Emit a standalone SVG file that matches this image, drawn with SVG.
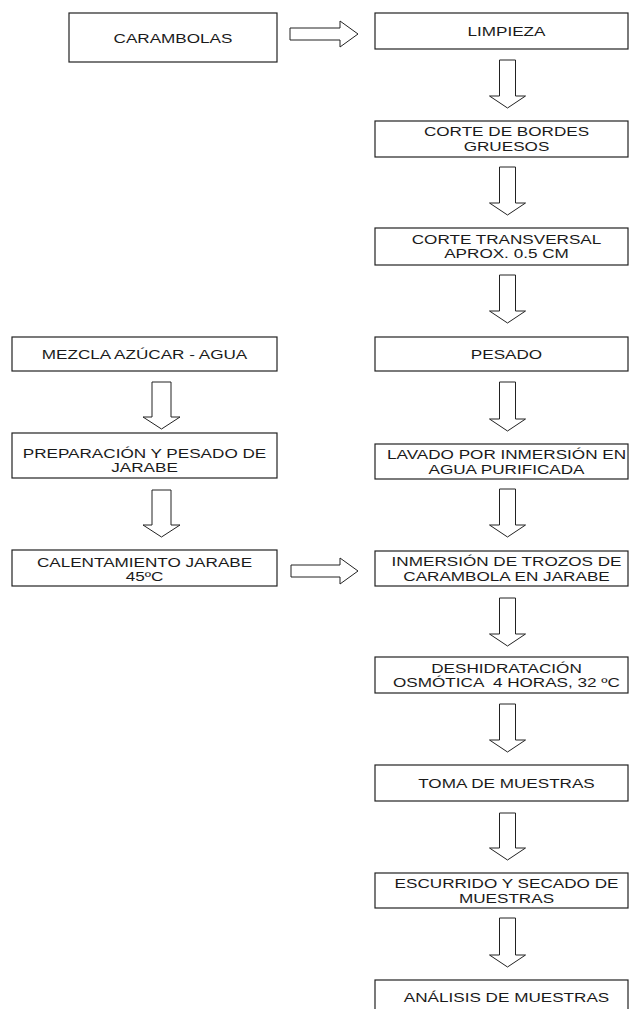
<svg xmlns="http://www.w3.org/2000/svg" width="629" height="1009" viewBox="0 0 629 1009">
<style>
.box{fill:#fff;stroke:#222;stroke-width:1.2}
.arr{fill:#fff;stroke:#222;stroke-width:1}
text{font-family:"Liberation Sans",Arial,sans-serif;font-size:12.5px;fill:#1a1a1a;text-anchor:middle;white-space:pre}
</style>
<rect width="629" height="1009" fill="#fff"/>
<g id="connectors">
<polygon class="arr" points="290,28 340,28 340,21 358,34 340,47 340,40 290,40"/>
<polygon class="arr" points="291,565 340,565 340,558 358,571 340,584 340,577 291,577"/>
<polygon class="arr" points="499.5,60 515.5,60 515.5,96 525.5,96 507.5,108 489.5,96 499.5,96"/>
<polygon class="arr" points="499.5,167 515.5,167 515.5,203 525.5,203 507.5,215 489.5,203 499.5,203"/>
<polygon class="arr" points="499.5,275 515.5,275 515.5,311 525.5,311 507.5,323 489.5,311 499.5,311"/>
<polygon class="arr" points="499.5,382 515.5,382 515.5,419 525.5,419 507.5,431 489.5,419 499.5,419"/>
<polygon class="arr" points="499.5,489 515.5,489 515.5,525 525.5,525 507.5,537 489.5,525 499.5,525"/>
<polygon class="arr" points="499.5,598 515.5,598 515.5,634 525.5,634 507.5,646 489.5,634 499.5,634"/>
<polygon class="arr" points="499.5,704 515.5,704 515.5,740 525.5,740 507.5,752 489.5,740 499.5,740"/>
<polygon class="arr" points="499.5,813 515.5,813 515.5,848 525.5,848 507.5,860 489.5,848 499.5,848"/>
<polygon class="arr" points="499.5,918 515.5,918 515.5,955 525.5,955 507.5,967 489.5,955 499.5,955"/>
<polygon class="arr" points="152,382 171,382 171,417 180,417 161.5,429 143,417 152,417"/>
<polygon class="arr" points="152,490 171,490 171,525 180,525 161.5,537 143,525 152,525"/>
</g>
<g id="n-carambolas"><rect class="box" x="69" y="13" width="208" height="49"/><text transform="translate(173,42.5) scale(1.37,1)">CARAMBOLAS</text></g>
<g id="n-limpieza"><rect class="box" x="375" y="13" width="253" height="36"/><text transform="translate(506.5,36) scale(1.37,1)">LIMPIEZA</text></g>
<g id="n-corte-bordes"><rect class="box" x="375" y="121" width="253" height="36"/><text transform="translate(506.5,136) scale(1.37,1)">CORTE DE BORDES</text><text transform="translate(506.5,150.5) scale(1.37,1)">GRUESOS</text></g>
<g id="n-corte-transversal"><rect class="box" x="375" y="228" width="253" height="37"/><text transform="translate(506.5,243.5) scale(1.37,1)">CORTE TRANSVERSAL</text><text transform="translate(506.5,258) scale(1.37,1)">APROX. 0.5 CM</text></g>
<g id="n-pesado"><rect class="box" x="375" y="337" width="253" height="34"/><text transform="translate(506.5,359) scale(1.37,1)">PESADO</text></g>
<g id="n-lavado"><rect class="box" x="375" y="444" width="253" height="35"/><text transform="translate(506.5,459) scale(1.37,1)">LAVADO POR INMERSIÓN EN</text><text transform="translate(506.5,473.5) scale(1.37,1)">AGUA PURIFICADA</text></g>
<g id="n-inmersion"><rect class="box" x="375" y="551" width="253" height="35"/><text transform="translate(506.5,566) scale(1.37,1)">INMERSIÓN DE TROZOS DE</text><text transform="translate(506.5,580.5) scale(1.37,1)">CARAMBOLA EN JARABE</text></g>
<g id="n-deshidratacion"><rect class="box" x="375" y="657" width="253" height="36"/><text transform="translate(506.5,672.5) scale(1.37,1)">DESHIDRATACIÓN</text><text transform="translate(506.5,687) scale(1.37,1)">OSMÓTICA  4 HORAS, 32 ºC</text></g>
<g id="n-toma"><rect class="box" x="375" y="765" width="253" height="36"/><text transform="translate(506.5,788) scale(1.37,1)">TOMA DE MUESTRAS</text></g>
<g id="n-escurrido"><rect class="box" x="375" y="873" width="253" height="35"/><text transform="translate(506.5,888) scale(1.37,1)">ESCURRIDO Y SECADO DE</text><text transform="translate(506.5,902.5) scale(1.37,1)">MUESTRAS</text></g>
<g id="n-analisis"><rect class="box" x="375" y="980" width="253" height="40"/><text transform="translate(506.5,1002) scale(1.37,1)">ANÁLISIS DE MUESTRAS</text></g>
<g id="n-mezcla"><rect class="box" x="12" y="337" width="265" height="34"/><text transform="translate(144.5,359) scale(1.37,1)">MEZCLA AZÚCAR - AGUA</text></g>
<g id="n-preparacion"><rect class="box" x="12" y="433" width="265" height="45"/><text transform="translate(144.5,457.5) scale(1.37,1)">PREPARACIÓN Y PESADO DE</text><text transform="translate(144.5,472) scale(1.37,1)">JARABE</text></g>
<g id="n-calentamiento"><rect class="box" x="12" y="550" width="265" height="36"/><text transform="translate(144.5,566.5) scale(1.37,1)">CALENTAMIENTO JARABE</text><text transform="translate(144.5,581) scale(1.37,1)">45ºC</text></g>
</svg>
